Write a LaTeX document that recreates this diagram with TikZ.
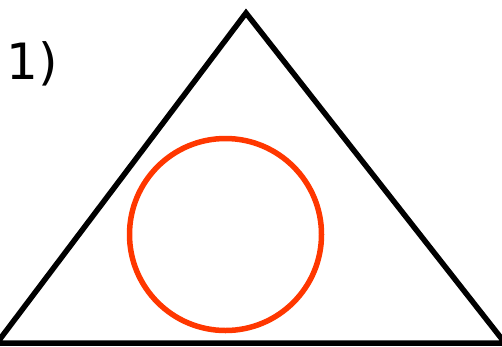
\documentclass[tikz,border=0pt]{standalone}
\usepackage{fontspec}
\setmainfont{DejaVu Sans}
\definecolor{rouge}{RGB}{255,55,0}
\begin{document}
\begin{tikzpicture}[join=miter,x=1pt,y=-1pt]
\tikzstyle{cote} = [line width=5.5pt,black]
\tikzstyle{cercle} = [line width=5.5pt,rouge]
\useasboundingbox (0,0) rectangle (502,346);
%sommets du triangle
\coordinate (A) at (-3,343);
\coordinate (B) at (246,13);
\coordinate (C) at (505,343);
%centre du cercle
\coordinate (O) at (225.5,234.5);
%numero
\node[font=\fontsize{50}{54}\selectfont] (num) at (32,64) {1)};
%tracer les cotes
\draw[cote] (A)--(B)--(C)--cycle;
%tracer le cercle
\draw[cercle] (O) circle (96);
\end{tikzpicture}
\end{document}
